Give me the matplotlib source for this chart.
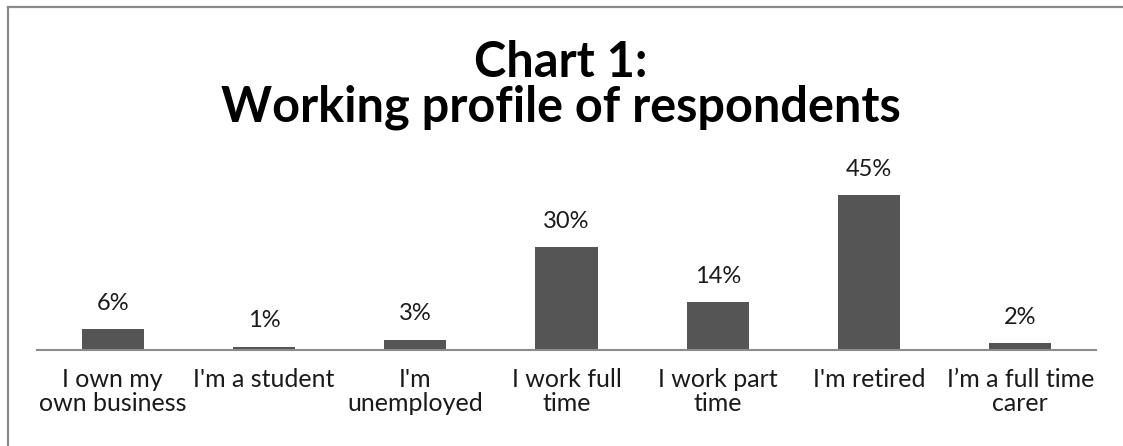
import matplotlib.pyplot as plt
from matplotlib.patches import Rectangle

# Data
categories = ["I own my\nown business", "I'm a student", "I'm\nunemployed",
              "I work full\ntime", "I work part\ntime", "I'm retired",
              "I\u2019m a full time\ncarer"]
values = [6, 1, 3, 30, 14, 45, 2]
pct_labels = ["6%", "1%", "3%", "30%", "14%", "45%", "2%"]

plt.rcParams['font.family'] = ['Lato', 'DejaVu Sans']

W, H = 1123, 446
fig = plt.figure(figsize=(W / 100, H / 100), dpi=100)

# chart border: only top and left edges fall inside the image
fig.add_artist(plt.Line2D([8 / W, 8 / W], [0, 1 - 7 / H], color='#8a8a8a', linewidth=1.6))
fig.add_artist(plt.Line2D([8 / W, 1], [1 - 7 / H, 1 - 7 / H], color='#8a8a8a', linewidth=1.6))

ax = fig.add_axes([37 / W, (H - 350) / H, 1059 / W, 172 / H])
x = range(len(categories))
ax.bar(x, values, width=0.41, color='#555555', zorder=2)
ax.set_xlim(-0.5, len(categories) - 0.5)
ax.set_ylim(0, 50)

for xi, v, lab in zip(x, values, pct_labels):
    ax.annotate(lab, (xi, v), xytext=(0, 11), textcoords='offset points',
                ha='center', va='bottom', fontsize=17, color='#1a1a1a', annotation_clip=False)

for s in ['top', 'right', 'left']:
    ax.spines[s].set_visible(False)
ax.spines['bottom'].set_color('#8c8c8c')
ax.spines['bottom'].set_linewidth(1.5)
ax.set_yticks([])
ax.set_xticks(list(x))
ax.set_xticklabels(categories, fontsize=18, color='#1a1a1a', linespacing=1.05, va='top')
ax.tick_params(axis='x', length=0, pad=13)

fig.text(561 / W, 1 - 85 / H, "Chart 1:\nWorking profile of respondents", ha='center', va='center',
         fontsize=35, fontweight='bold', linespacing=0.98, color='black')

fig.savefig('out.png', dpi=100)
